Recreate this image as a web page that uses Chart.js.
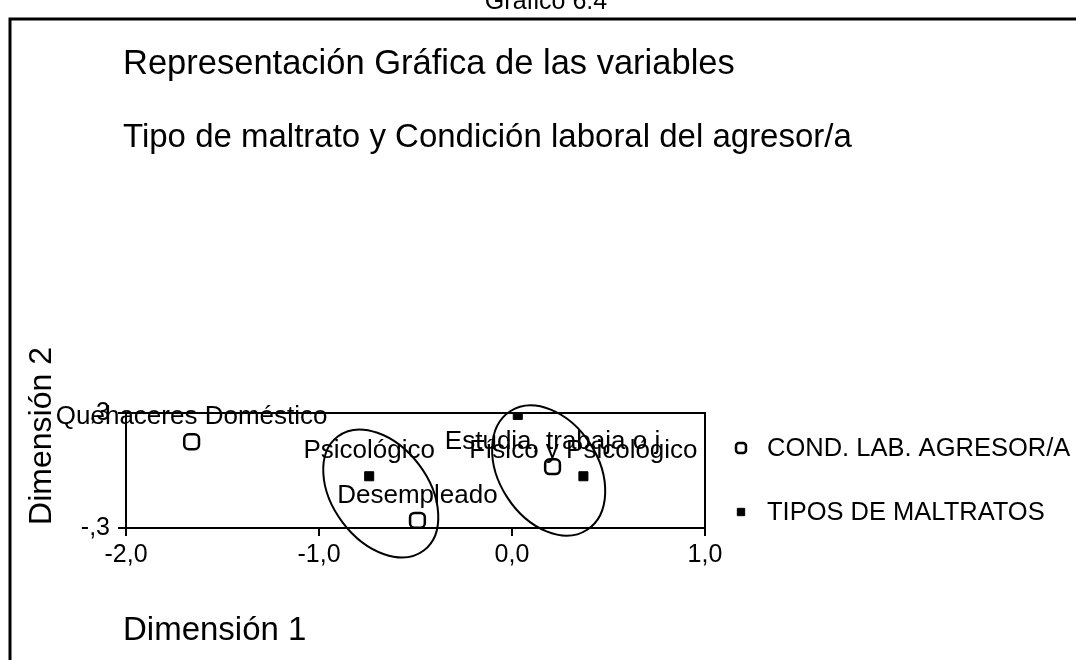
<!DOCTYPE html>
<html>
<head>
<meta charset="utf-8">
<title>Gráfico 6.4</title>
<script src="https://cdn.jsdelivr.net/npm/chart.js@4.4.0/dist/chart.umd.min.js"></script>
<style>
  html, body { margin: 0; padding: 0; background: #fff; }
  #wrap { width: 1076px; height: 660px; }
</style>
</head>
<body>
<div id="wrap"><canvas id="chart" width="1076" height="660"></canvas></div>
<script>
// condicion laboral del agresor/a (open squares)
const condLabels = ["Quehaceres Doméstico", "Desempleado", "Estudia, trabaja o j"];
const condX = [-1.66, -0.49, 0.21];
const condY = [0.15, -0.26, 0.02];

// tipos de maltrato (filled squares); first label falls outside the plot
const tipoLabels = ["", "Psicológico", "Físico y Psicológico"];
const tipoX = [0.03, -0.74, 0.37];
const tipoY = [0.29, -0.03, -0.03];

const seriesNames = ["COND. LAB. AGRESOR/A", "TIPOS DE MALTRATOS"];

const xTicks = [-2, -1, 0, 1];
const xTickLabels = ["-2,0", "-1,0", "0,0", "1,0"];
const yTicks = [-0.3, 0.3];
const yTickLabels = ["-,3", ",3"];

// the two hand drawn ellipses (centre and semi axes in dimension units, tilt in degrees)
const ellipseCx = [-0.68, 0.19];
const ellipseCy = [-0.12, 0.0];
const ellipseMinor = [0.248, 0.256];
const ellipseMajor = [0.370, 0.366];
const ellipseTilt = [-37, -33];

const FONT = "'Liberation Sans', Arial, sans-serif";

const toPoints = (xs, ys) => xs.map((x, i) => ({ x: x, y: ys[i] }));

const decor = {
  id: 'decor',
  beforeDraw(chart) {
    const ctx = chart.ctx;
    ctx.save();
    ctx.fillStyle = '#fff';
    ctx.fillRect(0, 0, chart.width, chart.height);
    // outer frame (only left and top visible)
    ctx.strokeStyle = '#000';
    ctx.lineWidth = 3;
    ctx.beginPath();
    ctx.moveTo(10, chart.height);
    ctx.lineTo(10, 19);
    ctx.lineTo(chart.width, 19);
    ctx.stroke();
    ctx.fillStyle = '#000';
    ctx.font = '25px ' + FONT;
    ctx.textAlign = 'center';
    ctx.textBaseline = 'alphabetic';
    ctx.fillText('Gráfico 6.4', 546, 9);
    // titles
    ctx.textAlign = 'left';
    ctx.font = '34.5px ' + FONT;
    ctx.fillText('Representación Gráfica de las variables', 123, 74);
    ctx.font = '33px ' + FONT;
    ctx.fillText('Tipo de maltrato y Condición laboral del agresor/a', 123, 147);
    ctx.fillText('Dimensión 1', 123, 640);
    ctx.save();
    ctx.translate(51, 436);
    ctx.rotate(-Math.PI / 2);
    ctx.textAlign = 'center';
    ctx.font = '32px ' + FONT;
    ctx.fillText('Dimensión 2', 0, 0);
    ctx.restore();
    ctx.restore();
  },
  beforeDatasetsDraw(chart) {
    const { ctx, chartArea: a } = chart;
    ctx.save();
    ctx.strokeStyle = '#000';
    ctx.lineWidth = 2;
    ctx.strokeRect(a.left, a.top, a.right - a.left, a.bottom - a.top);
    ctx.restore();
  },
  afterDatasetsDraw(chart) {
    const ctx = chart.ctx;
    const xs = chart.scales.x, ys = chart.scales.y;
    const unit = xs.getPixelForValue(1) - xs.getPixelForValue(0);
    ctx.save();
    ctx.strokeStyle = '#000';
    ctx.lineWidth = 2;
    ellipseCx.forEach((cx, i) => {
      ctx.beginPath();
      ctx.ellipse(xs.getPixelForValue(cx), ys.getPixelForValue(ellipseCy[i]),
        ellipseMinor[i] * unit, ellipseMajor[i] * unit,
        ellipseTilt[i] * Math.PI / 180, 0, Math.PI * 2);
      ctx.stroke();
    });
    // point labels
    ctx.fillStyle = '#000';
    ctx.font = '26px ' + FONT;
    ctx.textAlign = 'center';
    ctx.textBaseline = 'middle';
    chart.data.datasets.forEach((ds, di) => {
      chart.getDatasetMeta(di).data.forEach((el, i) => {
        const t = ds.pointLabels[i];
        if (t) ctx.fillText(t, el.x, el.y - 25);
      });
    });
    // legend
    ctx.textAlign = 'left';
    ctx.font = '25.5px ' + FONT;
    const rows = [448, 512];
    const legendRadius = [5.8, 5.2];
    chart.data.datasets.forEach((ds, di) => {
      ctx.fillStyle = ds.backgroundColor;
      ctx.strokeStyle = ds.borderColor;
      ctx.lineWidth = ds.borderWidth;
      Chart.helpers.drawPoint(ctx, {
        pointStyle: ds.pointStyle, radius: legendRadius[di], rotation: 0,
        borderWidth: ds.borderWidth
      }, 741, rows[di]);
      ctx.fillStyle = '#000';
      ctx.fillText(seriesNames[di], 767, rows[di] + 1);
    });
    ctx.restore();
  }
};

const chart = new Chart(document.getElementById('chart'), {
  type: 'scatter',
  data: {
    datasets: [
      {
        label: seriesNames[0],
        data: toPoints(condX, condY),
        pointLabels: condLabels,
        pointStyle: 'rectRounded',
        pointRadius: 8.6,
        borderWidth: 2.5,
        borderColor: '#000',
        backgroundColor: '#fff'
      },
      {
        label: seriesNames[1],
        data: toPoints(tipoX, tipoY),
        pointLabels: tipoLabels,
        pointStyle: 'rect',
        pointRadius: 6.4,
        borderWidth: 1,
        borderColor: '#000',
        backgroundColor: '#000'
      }
    ]
  },
  options: {
    responsive: false,
    animation: false,
    events: [],
    layout: { padding: { top: 413, right: 371, bottom: 72, left: 0 } },
    plugins: { legend: { display: false }, tooltip: { enabled: false } },
    scales: {
      x: {
        type: 'linear',
        min: -2, max: 1,
        afterFit: s => { s.height = 60; },
        afterBuildTicks: s => { s.ticks = xTicks.map(v => ({ value: v })); },
        grid: { drawOnChartArea: false, tickLength: 8, color: '#000', lineWidth: 2 },
        border: { color: '#000', width: 2 },
        ticks: {
          color: '#000', padding: 4, maxRotation: 0,
          font: { family: FONT, size: 25 },
          callback: (v, i) => xTickLabels[i]
        }
      },
      y: {
        type: 'linear',
        min: -0.3, max: 0.3,
        afterFit: s => { s.width = 126; },
        afterBuildTicks: s => { s.ticks = yTicks.map(v => ({ value: v })); },
        grid: { drawOnChartArea: false, tickLength: 8, color: '#000', lineWidth: 2 },
        border: { color: '#000', width: 2 },
        ticks: {
          color: '#000', padding: 8,
          font: { family: FONT, size: 25 },
          callback: (v, i) => yTickLabels[i]
        }
      }
    }
  },
  plugins: [decor]
});
</script>
</body>
</html>
